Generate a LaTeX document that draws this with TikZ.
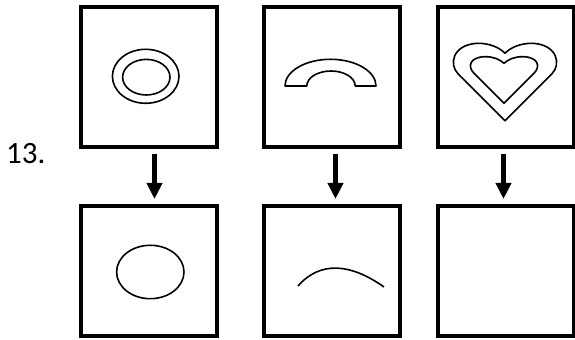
\documentclass[tikz,border=0pt]{standalone}
\usepackage{fontspec}
\setmainfont{Carlito}
\usetikzlibrary{positioning,arrows.meta}

\begin{document}
\begin{tikzpicture}[
    x=0.5pt, y=-0.5pt,
    box/.style={draw, line width=2pt, minimum width=68pt, inner sep=0pt},
    topbox/.style={box, minimum height=70pt},
    botbox/.style={box, minimum height=65pt},
    arrow/.style={-{Triangle[length=8pt, width=7.5pt]}, line width=2.5pt,
      shorten <=2.25pt, shorten >=2.75pt},
    figure/.style={line width=0.8pt, line join=round}
  ]
    \useasboundingbox (0,0) rectangle (575,340);
    \node[anchor=base west, font=\fontsize{15.5pt}{18pt}\selectfont] (num) at (-1,164) {13.};

    \node[topbox] (top1) at (149,77.5) {};
    \node[topbox, right=21.5pt of top1] (top2) {};
    \node[topbox, right=17pt of top2] (top3) {};
    \node[botbox, below=27.5pt of top1] (bot1) {};
    \node[botbox, below=27.5pt of top2] (bot2) {};
    \node[botbox, below=27.5pt of top3] (bot3) {};

    \draw[arrow] ([xshift=2.75pt]top1.south) -- ([xshift=2.75pt]bot1.north);
    \draw[arrow] ([xshift=1.75pt]top2.south) -- ([xshift=1.75pt]bot2.north);
    \draw[arrow] ([xshift=-1.25pt]top3.south) -- ([xshift=-1.25pt]bot3.north);

    % ring
    \draw[figure] (145.7,76.3) ellipse [x radius=33.3, y radius=27];
    \draw[figure] (146.3,77.2) ellipse [x radius=23.7, y radius=17.8];
    % arch
    \draw[figure] (285,86) arc[start angle=180, end angle=360, x radius=45.5, y radius=26.7]
      -- (355.2,86) arc[start angle=0, end angle=-180, x radius=24.2, y radius=15] -- cycle;
    % hearts
    \draw[figure] (505,120.7) -- (458,73.7) .. controls (449,64.7) and (452,45) .. (477,43.3)
      .. controls (490,43) and (500,48) .. (505,53.3)
      .. controls (510,48) and (520,43) .. (533,43.3)
      .. controls (558,45) and (561,64.7) .. (552,73.7) -- cycle;
    \draw[figure] (504,103.3) -- (474,73.3) .. controls (467,66.3) and (470,57) .. (485,56.7)
      .. controls (493,56.5) and (500,59.5) .. (504,63.3)
      .. controls (508,59.5) and (515,56.5) .. (523,56.7)
      .. controls (538,57) and (541,66.3) .. (534,73.3) -- cycle;

    % results
    \draw[figure] (150.3,272) ellipse [x radius=33.7, y radius=26.7];
    \draw[figure] (298,286) .. controls (320,261) and (350,263) .. (384,287);
  \end{tikzpicture}
\end{document}
